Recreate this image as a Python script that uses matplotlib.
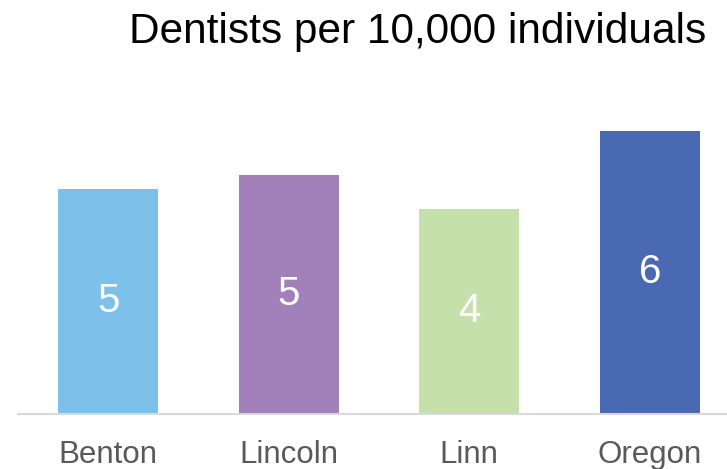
import matplotlib.pyplot as plt
import numpy as np

plt.rcParams['font.family'] = ['Liberation Sans', 'DejaVu Sans']

""" values read off the picture """
counties = ['Benton', 'Lincoln', 'Linn', 'Oregon']
dentists = [4.77, 5.06, 4.34, 6.0]
colors = ['#7DC1EA', '#A280B9', '#C5E0AB', '#4A69B3']

f = plt.figure(figsize=(7.27, 4.69), dpi=100)
ax = f.add_axes([0.0248, 0.1173, 0.993, 0.705])

x = np.arange(len(counties))
bars = ax.bar(x, dentists, width=0.554, color=colors)

for b, v in zip(bars, dentists):
	ax.text(b.get_x() + b.get_width() / 2, v / 2, '%d' % round(v),
			ha='center', va='center', color='white', fontsize=29)

ax.set_xlim(-0.5, len(counties) - 0.5)
ax.set_ylim(0, 7)
ax.set_xticks(x)
ax.set_xticklabels(counties, fontsize=22.5, color='#595959')
ax.tick_params(axis='x', length=0, pad=19)
ax.set_yticks([])
for s in ['top', 'right', 'left']:
	ax.spines[s].set_visible(False)
ax.spines['bottom'].set_color('#D9D9D9')
ax.spines['bottom'].set_linewidth(1.5)

f.text(0.574, 0.932, 'Dentists per 10,000 individuals', ha='center', va='center',
	   fontsize=30.5, color='black')

plt.savefig('out.png', dpi=100)
